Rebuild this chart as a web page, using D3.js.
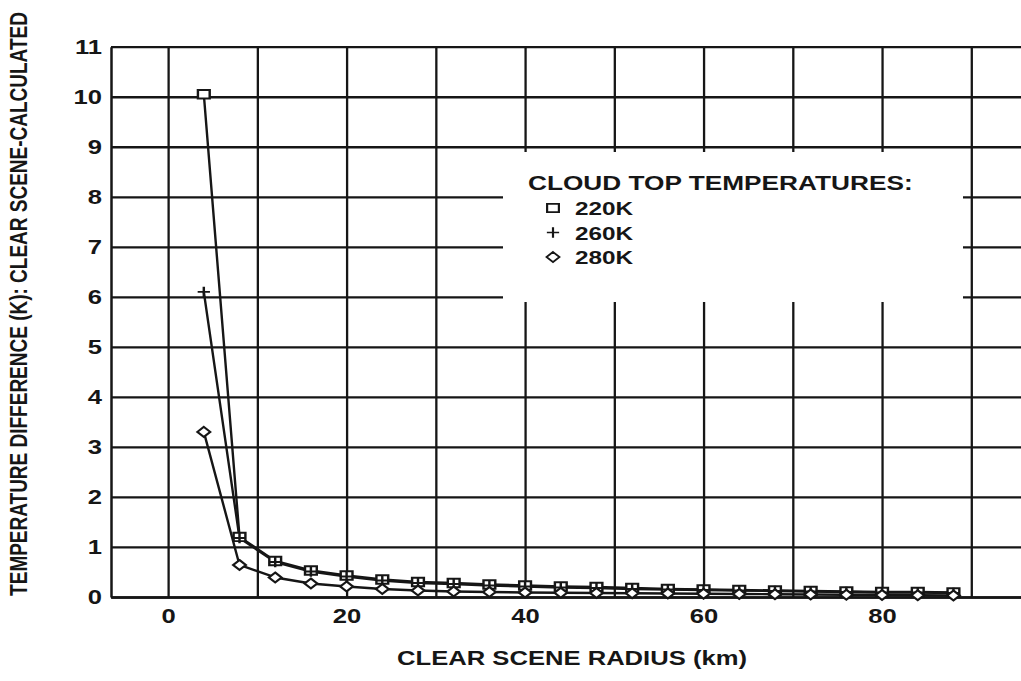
<!DOCTYPE html>
<html>
<head>
<meta charset="utf-8">
<script src="https://cdn.jsdelivr.net/npm/d3@7"></script>
<style>
  html, body { margin: 0; padding: 0; background: #fff; }
  svg { display: block; }
  text { font-family: "Liberation Sans", Arial, Helvetica, sans-serif; font-weight: bold; fill: #161616; }
</style>
</head>
<body>
<svg id="chart" width="1021" height="681"></svg>
<script>
// ---- data ----
const radius = [4, 8, 12, 16, 20, 24, 28, 32, 36, 40, 44, 48, 52, 56, 60, 64, 68, 72, 76, 80, 84, 88];
const t220 = [10.05, 1.20, 0.72, 0.53, 0.43, 0.35, 0.30, 0.28, 0.25, 0.23, 0.21, 0.20, 0.18, 0.16, 0.15, 0.14, 0.13, 0.12, 0.11, 0.10, 0.10, 0.09];
const t260 = [6.10, 1.18, 0.70, 0.51, 0.41, 0.33, 0.28, 0.26, 0.23, 0.21, 0.19, 0.18, 0.16, 0.15, 0.14, 0.13, 0.12, 0.11, 0.10, 0.09, 0.09, 0.08];
const t280 = [3.30, 0.64, 0.39, 0.27, 0.21, 0.16, 0.13, 0.11, 0.10, 0.09, 0.085, 0.08, 0.075, 0.07, 0.065, 0.06, 0.055, 0.05, 0.045, 0.04, 0.035, 0.03];
const seriesNames = ["220K", "260K", "280K"];
const seriesMarkers = ["square", "plus", "diamond"];
const xGridTicks = [0, 10, 20, 30, 40, 50, 60, 70, 80, 90];
const xLabelTicks = [0, 20, 40, 60, 80];
const yTicks = [0, 1, 2, 3, 4, 5, 6, 7, 8, 9, 10, 11];
const xTitle = "CLEAR SCENE RADIUS (km)";
const yTitle = "TEMPERATURE DIFFERENCE (K): CLEAR SCENE-CALCULATED";
const legendTitle = "CLOUD TOP TEMPERATURES:";

// ---- layout ----
const SX = 1.28;           // horizontal stretch of the scanned lettering
const INK = "#161616";
const svg = d3.select("#chart");
const x = d3.scaleLinear().domain([-6.4, 95.57]).range([111, 1021]);
const y = d3.scaleLinear().domain([0, 11]).range([597, 46.7]);

// grid + axes
const gx = svg.append("g").attr("transform", `translate(0,${y(0)})`)
  .call(d3.axisBottom(x).tickValues(xGridTicks).tickSize(-(y(0) - y(11))).tickSizeOuter(0).tickPadding(12)
    .tickFormat(d => xLabelTicks.includes(d) ? d : ""));
const gy = svg.append("g").attr("transform", `translate(${x(-6.4)},0)`)
  .call(d3.axisLeft(y).tickValues(yTicks).tickSize(-(1021 - x(-6.4))).tickSizeOuter(0).tickPadding(7));
[gx, gy].forEach(g => {
  g.selectAll("line").attr("stroke", INK).attr("stroke-width", 2.3);
  g.select(".domain").attr("stroke", INK).attr("stroke-width", 2.5);
  g.selectAll("text").attr("font-size", 20).attr("fill", INK)
    .style("font-family", '"Liberation Sans", Arial, sans-serif').style("font-weight", "bold")
    .attr("transform", `scale(${SX},1)`);
});

// legend box (white, covers grid)
svg.append("rect").attr("x", 503).attr("y", 152).attr("width", 460).attr("height", 150).attr("fill", "#fff");

// markers
function markerPath(type) {
  if (type === "square") return "M-4.6,-4.2H4.6V4.2H-4.6Z";
  if (type === "diamond") return "M0,-5L5,0L0,5L-5,0Z";
  return "M-4.8,0H4.8M0,-5.2V5.2";
}
const series = [t220, t260, t280];
const line = d3.line().x((d, i) => x(radius[i])).y(d => y(d));
series.forEach(vals => {
  svg.append("path").datum(vals).attr("d", line)
    .attr("fill", "none").attr("stroke", INK).attr("stroke-width", 2.4).attr("stroke-linejoin", "round");
});
series.forEach((vals, si) => {
  const type = seriesMarkers[si];
  svg.append("g").selectAll("path").data(vals).join("path")
    .attr("d", markerPath(type))
    .attr("transform", (d, i) => `translate(${x(radius[i])},${y(d)}) scale(${SX},1)`)
    .attr("fill", type === "plus" ? "none" : "#fff")
    .attr("stroke", INK).attr("stroke-width", 1.9);
});

// legend
svg.append("text").attr("transform", `translate(528,190) scale(${SX},1)`)
  .attr("font-size", 20.5).text(legendTitle);
seriesNames.forEach((name, i) => {
  const by = 215 + i * 24.5;
  svg.append("path").attr("d", markerPath(seriesMarkers[i]))
    .attr("transform", `translate(553,${by - 7}) scale(${SX},1)`)
    .attr("fill", seriesMarkers[i] === "plus" ? "none" : "#fff")
    .attr("stroke", INK).attr("stroke-width", 1.7);
  svg.append("text").attr("transform", `translate(575,${by}) scale(${SX},1)`)
    .attr("font-size", 19).text(name);
});

// axis titles
svg.append("text").attr("transform", `translate(572,665) scale(${SX},1)`)
  .attr("text-anchor", "middle").attr("font-size", 20).text(xTitle);
svg.append("text").attr("transform", `translate(18,304) scale(${SX},1) rotate(-90)`)
  .attr("text-anchor", "middle").attr("dy", "0.36em").attr("font-size", 19).text(yTitle);
</script>
</body>
</html>
